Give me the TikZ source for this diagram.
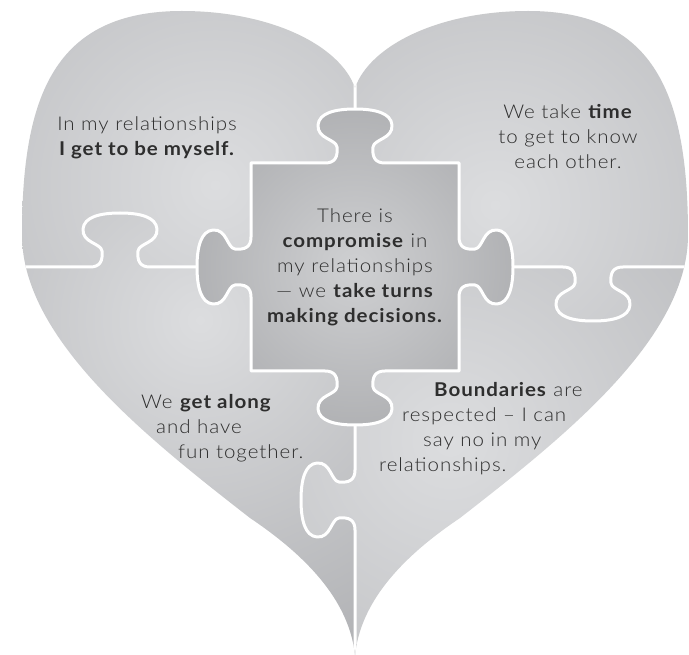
\documentclass[tikz,border=0pt]{standalone}
\usepackage{fontspec}
\setmainfont{Lato Light}[BoldFont={Lato Bold}, FakeStretch=1.08, LetterSpace=5]
\definecolor{pclight}{HTML}{DCDDDF}
\definecolor{pcdark}{HTML}{A8A9AC}
\definecolor{sqlight}{HTML}{CFD0D2}
\definecolor{sqdark}{HTML}{96979A}
\definecolor{ink}{HTML}{2E2E2E}
% one jigsaw tab, base from (-30,0) to (30,0), pointing up
\newcommand{\jigtab}{-- (-30,0) .. controls (-20,0) and (-17,-6) .. (-18,-16)
  .. controls (-19,-24) and (-38,-24) .. (-37,-38)
  .. controls (-36,-50) and (-20,-54) .. (0,-54)
  .. controls (20,-54) and (36,-50) .. (37,-38)
  .. controls (38,-24) and (19,-24) .. (18,-16)
  .. controls (17,-6) and (20,0) .. (30,0)}
\newcommand{\sqpath}{(251,163) {[shift={(355,163)}] \jigtab} -- (459,163)
  {[shift={(459,267)}, rotate=-90] \jigtab} -- (459,371)
  {[shift={(355,371)}, rotate=180] \jigtab} -- (251,371)
  {[shift={(251,267)}, rotate=90] \jigtab} -- cycle}
\tikzset{seam/.style={white, line width=3pt, line join=round},
  txt/.style={inner sep=0pt, align=center, text=ink, font=\fontsize{19}{25}\selectfont}}
\begin{document}
\begin{tikzpicture}[x=1pt, y=-1pt]
        \fill[white] (0,0) rectangle (689,655);
        \useasboundingbox (0,0) rectangle (689,655);
        \begin{scope}
        \clip (355,88) .. controls (340,45) and (270,11) .. (182,11)
          .. controls (55,11) and (22,95) .. (22,235)
          .. controls (22,340) and (150,440) .. (250,518)
          .. controls (320,565) and (350,610) .. (355,655)
          .. controls (360,610) and (390,565) .. (460,518)
          .. controls (560,440) and (688,340) .. (688,235)
          .. controls (688,95) and (655,11) .. (528,11)
          .. controls (440,11) and (370,45) .. cycle;
        % the four outer pieces
        \begin{scope}
          \clip (0,0) rectangle (355,267);
          \shade[inner color=pclight, outer color=pcdark] (215,185) circle (520);
        \end{scope}
        \begin{scope}
          \clip (0,267) {[shift={(120,267)}] \jigtab} -- (355,267) -- (355,655) -- (0,655) -- cycle;
          \shade[inner color=pclight, outer color=pcdark] (200,320) circle (440);
        \end{scope}
        \begin{scope}
          \clip (355,267) -- (689,267) -- (689,655) -- (355,655) {[shift={(355,500)}, rotate=90] \jigtab} -- cycle;
          \shade[inner color=pclight, outer color=pcdark] (450,440) circle (560);
        \end{scope}
        \begin{scope}
          \clip (355,0) -- (689,0) -- (689,267) {[shift={(593,267)}, rotate=180] \jigtab} -- (355,267) -- cycle;
          \shade[inner color=pclight, outer color=pcdark] (495,205) circle (520);
        \end{scope}
        \draw[seam] (0,267) {[shift={(120,267)}] \jigtab} -- (355,267);
        \draw[seam] (689,267) {[shift={(593,267)}, rotate=180] \jigtab} -- (355,267);
        \draw[seam] (355,655) {[shift={(355,500)}, rotate=90] \jigtab} -- (355,0);
        % the middle piece
        \begin{scope}
          \clip \sqpath;
          \shade[inner color=sqlight, outer color=sqdark] (355,267) circle (300);
        \end{scope}
        \draw[seam] \sqpath;
        \end{scope}
        \node[txt] (myself) at (147,137.5) {In my relationships\\\textbf{I get to be myself.}};
        \node[txt] (time) at (568,137) {We take \textbf{time}\\to get to know\\each other.};
        \node[txt] (compromise) at (355,267) {There is\\\textbf{compromise} in\\my relationships\\— we \textbf{take turns}\\\textbf{making decisions.}};
        \node[txt, align=left, anchor=west] (along) at (141,428.5) {We \textbf{get along}\\\hspace*{15pt}and have\\\hspace*{37pt}fun together.};
        \node[txt, align=left, anchor=west] (boundaries) at (379,429) {\hspace*{55pt}\textbf{Boundaries} are\\\hspace*{23pt}respected – I can\\\hspace*{44pt}say no in my\\relationships.};
\end{tikzpicture}
\end{document}
